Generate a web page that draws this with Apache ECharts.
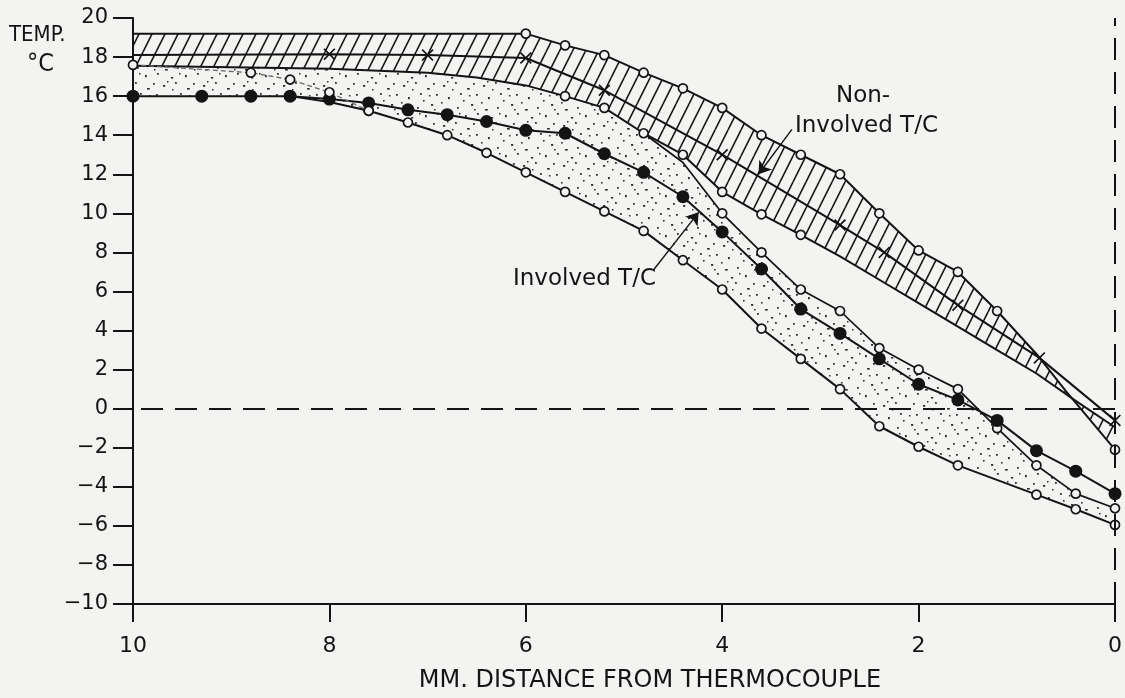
<!DOCTYPE html>
<html>
<head>
<meta charset="utf-8">
<script src="https://cdn.jsdelivr.net/npm/echarts@6/dist/echarts.min.js"></script>
<style>
html,body{margin:0;padding:0;background:#f3f3f1;}
#chart{width:1125px;height:698px;}
</style>
</head>
<body>
<div id="chart"></div>
<script>
// ---- data (x = mm distance from thermocouple, y = temperature °C) ----
const nonUpperX = [10, 6, 5.6, 5.2, 4.8, 4.4, 4, 3.6, 3.2, 2.8, 2.4, 2, 1.6, 1.2, 0.8, 0.5, 0];
const nonUpperY = [19.2, 19.2, 18.6, 18.1, 17.2, 16.4, 15.4, 14.0, 13.0, 12.0, 10.0, 8.1, 7.0, 5.0, 2.8, 0.9, -2.1];
const nonUpperPlain = [10, 0.8, 0.5];

const nonMidX = [10, 8, 7, 6, 5.2, 4, 2.8, 2.35, 1.6, 0.77, 0];
const nonMidY = [18.1, 18.15, 18.1, 17.95, 16.3, 13.0, 9.4, 8.0, 5.3, 2.6, -0.6];
const nonMidPlain = [10];

const nonLowerX = [10, 8, 7, 6.5, 6, 5.6, 5.2, 4.8, 4.4, 4, 3.6, 3.2, 2.8, 2.4, 2, 1.6, 1.2, 0.8, 0.4, 0];
const nonLowerY = [17.55, 17.4, 17.2, 16.95, 16.55, 16.0, 15.4, 14.1, 13.0, 11.1, 9.95, 8.9, 7.8, 6.6, 5.4, 4.2, 3.0, 1.8, 0.4, -0.95];
const nonLowerPlain = [10, 8, 7, 6.5, 6, 2.8, 2.4, 2, 1.6, 1.2, 0.8, 0.4, 0];

const invUpperX = [4.8, 4.4, 4, 3.6, 3.2, 2.8, 2.4, 2, 1.6, 1.2, 0.8, 0.4, 0];
const invUpperY = [14.1, 12.6, 10.0, 8.0, 6.1, 5.0, 3.1, 2.0, 1.0, -1.0, -2.9, -4.35, -5.1];
const invUpperPlain = [4.8, 4.4];

const invMidX = [10, 9.3, 8.8, 8.4, 8, 7.6, 7.2, 6.8, 6.4, 6, 5.6, 5.2, 4.8, 4.4, 4, 3.6, 3.2, 2.8, 2.4, 2, 1.6, 1.2, 0.8, 0.4, 0];
const invMidY = [16.0, 16.0, 16.0, 16.0, 15.85, 15.65, 15.3, 15.05, 14.7, 14.25, 14.1, 13.05, 12.1, 10.85, 9.05, 7.15, 5.1, 3.85, 2.55, 1.25, 0.45, -0.6, -2.15, -3.2, -4.35];

const invLowerLeftX = [10, 8.8, 8.4, 8, 7.6];
const invLowerLeftY = [17.6, 17.2, 16.85, 16.2, 15.25];

const invLowerX = [8.4, 8, 7.6, 7.2, 6.8, 6.4, 6, 5.6, 5.2, 4.8, 4.4, 4, 3.6, 3.2, 2.8, 2.4, 2, 1.6, 0.8, 0.4, 0];
const invLowerY = [16.0, 15.7, 15.25, 14.65, 14.0, 13.1, 12.1, 11.1, 10.1, 9.1, 7.6, 6.1, 4.1, 2.55, 1.0, -0.9, -1.95, -2.9, -4.4, -5.15, -5.95];
const invLowerPlain = [8.4, 8];

const xTickValues = [10, 8, 6, 4, 2, 0];
const yTickValues = [20, 18, 16, 14, 12, 10, 8, 6, 4, 2, 0, -2, -4, -6, -8, -10];

const labelNonInvolved = ['Non-', 'Involved T/C'];
const labelInvolved = 'Involved T/C';
const xTitle = 'MM. DISTANCE FROM THERMOCOUPLE';
const yTitle = ['TEMP.', '°C'];

// ---- helpers ----
const INK = '#141414';
const BG = '#f3f3f1';
const FONT_C = "'DejaVu Sans Condensed', 'DejaVu Sans', sans-serif";
const FONT = "'DejaVu Sans', sans-serif";
const zip = (xs, ys) => xs.map((x, i) => [x, ys[i]]);
function items(xs, ys, plain) {
  return xs.map((x, i) => plain && plain.indexOf(x) >= 0
    ? { value: [x, ys[i]], symbol: 'none' }
    : { value: [x, ys[i]] });
}

// patterns
function hatchPattern() {
  const c = document.createElement('canvas');
  const w = 13, h = 26;
  c.width = w; c.height = h;
  const g = c.getContext('2d');
  g.strokeStyle = INK; g.lineWidth = 1.6;
  for (let k = -1; k <= 1; k++) {
    g.beginPath(); g.moveTo(k * w, h); g.lineTo(k * w + w, 0); g.stroke();
  }
  return { image: c, repeat: 'repeat' };
}
function stipplePattern() {
  const c = document.createElement('canvas');
  c.width = 40; c.height = 40;
  const g = c.getContext('2d');
  g.fillStyle = '#303030';
  const dots = [[3,5,2.2,1.8],[15,2,1.8,1.8],[27,8,2.8,1.6],[36,14,1.8,1.8],[8,17,1.8,2.2],[20,13,1.8,1.8],
    [31,24,2.2,1.8],[5,29,2.8,1.6],[17,27,1.8,1.8],[25,35,1.8,2.2],[37,33,1.8,1.8],[11,37,2.2,1.6],
    [23,20,1.6,1.6],[33,3,1.8,1.8],[12,9,1.5,1.5],[29,15,1.5,1.5],[1,22,1.6,1.6],[19,33,1.5,1.5],
    [34,29,1.5,1.5],[7,1,1.5,1.5]];
  dots.forEach(d => g.fillRect(d[0], d[1], d[2], d[3]));
  return { image: c, repeat: 'repeat' };
}

const nonUpper = zip(nonUpperX, nonUpperY);
const nonLower = zip(nonLowerX, nonLowerY);
const invUpper = zip(invUpperX, invUpperY);
const invMid = zip(invMidX, invMidY);
const invLower = zip(invLowerX, invLowerY);

const hatchPoly = nonUpper.concat(nonLower.slice().reverse());
const stippleTop = nonLower.filter(p => p[0] > invUpperX[0]).concat(invUpper);
const stippleBottom = invLower.slice().reverse()
  .concat(invMid.filter(p => p[0] > invLowerX[0]).reverse());
const stipplePoly = stippleTop.concat(stippleBottom);

function polySeries(poly, fill) {
  return {
    type: 'custom', silent: true, z: 1, clip: true,
    data: [[0, 0]],
    renderItem: function (params, api) {
      return { type: 'polygon', shape: { points: poly.map(p => api.coord(p)) },
               style: { fill: fill, stroke: null } };
    }
  };
}

const openCircle = { color: BG, borderColor: INK, borderWidth: 1.7 };
const crossPath = 'path://M0,1L1,0L5,4L9,0L10,1L6,5L10,9L9,10L5,6L1,10L0,9L4,5Z';

function lineSeries(data, opts) {
  return Object.assign({
    type: 'line', z: 3, showAllSymbol: true, animation: false,
    symbol: 'circle', symbolSize: 9,
    lineStyle: { color: INK, width: 2 },
    itemStyle: openCircle,
    data: data
  }, opts);
}

const chart = echarts.init(document.getElementById('chart'), null, { renderer: 'canvas' });
chart.setOption({
  backgroundColor: BG,
  animation: false,
  grid: { left: 133, right: 8, top: 18, bottom: 94 },
  xAxis: {
    type: 'value', min: 0, max: 10, interval: 2, inverse: true, position: 'bottom',
    axisLine: { onZero: false, lineStyle: { color: INK, width: 2 } },
    axisTick: { length: 18, lineStyle: { color: INK, width: 2 } },
    splitLine: { show: false },
    axisLabel: { color: INK, fontSize: 22, fontFamily: FONT, margin: 31,
      formatter: v => xTickValues.indexOf(v) >= 0 ? String(v) : '' }
  },
  yAxis: {
    type: 'value', min: -10, max: 20, interval: 2, position: 'left',
    axisLine: { show: true, onZero: false, lineStyle: { color: INK, width: 2 } },
    axisTick: { show: true, length: 20, lineStyle: { color: INK, width: 2 } },
    splitLine: { show: false },
    axisLabel: { color: INK, fontSize: 21, fontFamily: FONT, margin: 25,
      formatter: v => yTickValues.indexOf(v) >= 0 ? (v < 0 ? '\u2212' + Math.abs(v) : String(v)) : '' }
  },
  graphic: [
    { type: 'text', x: 9, y: 24, style: { text: yTitle[0], font: '22px ' + FONT_C, fill: INK } },
    { type: 'text', x: 27, y: 52, style: { text: yTitle[1], font: '25px ' + FONT_C, fill: INK } },
    { type: 'text', x: 836, y: 85, style: { text: labelNonInvolved[0], font: '23px ' + FONT, fill: INK } },
    { type: 'text', x: 795, y: 115, style: { text: labelNonInvolved[1], font: '23px ' + FONT, fill: INK } },
    { type: 'text', x: 513, y: 268, style: { text: labelInvolved, font: '23px ' + FONT, fill: INK } },
    { type: 'text', x: 650, y: 681, style: { text: xTitle, font: '24px ' + FONT, fill: INK,
        textAlign: 'center', textVerticalAlign: 'middle' } }
  ],
  series: [
    polySeries(hatchPoly, hatchPattern()),
    polySeries(stipplePoly, stipplePattern()),
    lineSeries(items(nonUpperX, nonUpperY, nonUpperPlain), {}),
    lineSeries(items(nonMidX, nonMidY, nonMidPlain), {
      symbol: crossPath, symbolSize: 12, itemStyle: { color: INK }
    }),
    lineSeries(items(nonLowerX, nonLowerY, nonLowerPlain), {}),
    lineSeries(items(invUpperX, invUpperY, invUpperPlain), { lineStyle: { color: INK, width: 1.7 } }),
    lineSeries(items(invMidX, invMidY, null), {
      symbolSize: 13, itemStyle: { color: INK }
    }),
    lineSeries(items(invLowerLeftX, invLowerLeftY, null), {
      lineStyle: { color: '#6a6a6a', width: 1.3, type: [5, 3] }
    }),
    lineSeries(items(invLowerX, invLowerY, invLowerPlain), {}),
    {
      type: 'line', data: [], z: 2,
      markLine: {
        silent: true, animation: false,
        symbol: ['none', 'none'],
        label: { show: false },
        lineStyle: { color: INK, width: 2, type: [22, 12] },
        data: [{ yAxis: 0 }, { xAxis: 0 }]
      }
    },
    {
      type: 'line', data: [], z: 4,
      markLine: {
        silent: true, animation: false,
        symbol: ['none', 'arrow'], symbolSize: 12,
        label: { show: false },
        lineStyle: { color: INK, width: 1.4, type: 'solid' },
        data: [
          [{ coord: [3.29, 14.3] }, { coord: [3.63, 12.0] }],
          [{ coord: [4.7, 7.1] }, { coord: [4.24, 10.05] }]
        ]
      }
    }
  ]
});
</script>
</body>
</html>
